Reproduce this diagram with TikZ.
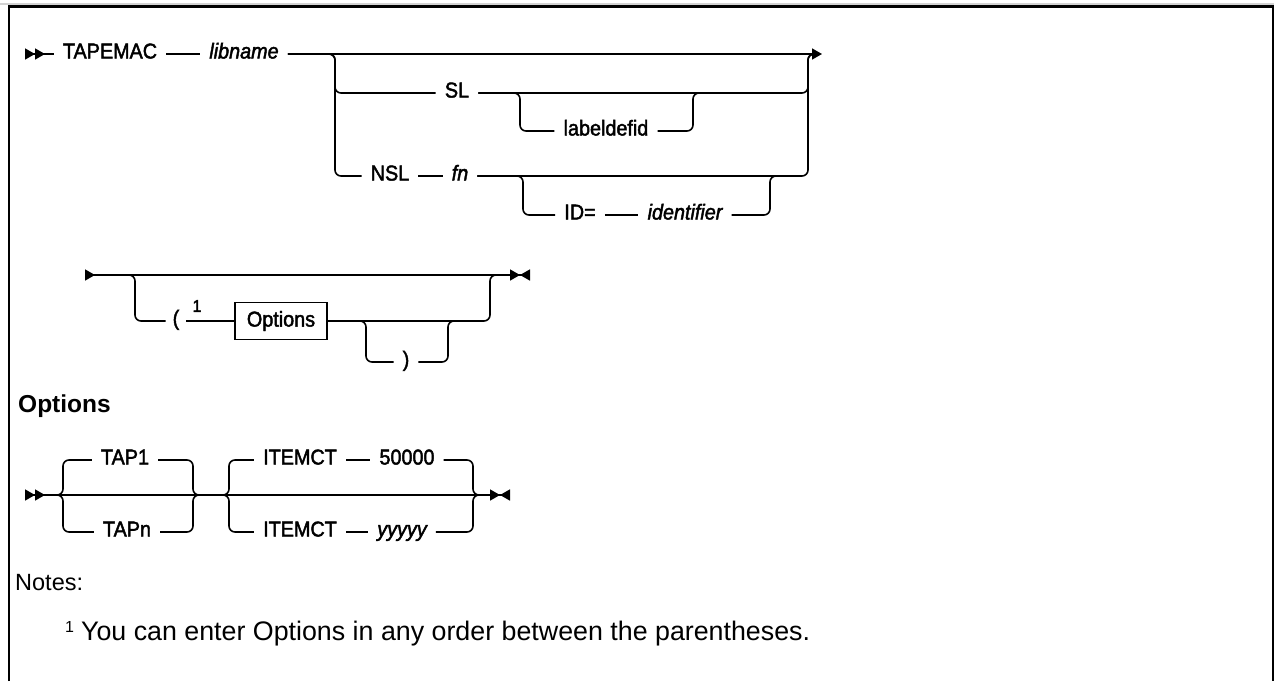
\documentclass[tikz,border=0pt]{standalone}
\usepackage{fontspec}
\setmainfont{Liberation Sans}
\newfontfamily\railfam[FakeStretch=0.92, FakeBold=2]{Liberation Sans}
\usetikzlibrary{
    arrows.meta,
    positioning,
    calc
}
\newcommand{\railfont}{\railfam\fontsize{21.5}{25}\selectfont}
\newcommand{\headfont}{\fontsize{24.5}{29}\selectfont}
\newcommand{\notefont}{\fontsize{26.8}{31}\selectfont}
\newcommand{\notehead}{\fontsize{23.5}{28}\selectfont}
\newcommand{\supfont}{\railfam\fontsize{17}{20}\selectfont}
\tikzstyle{kw} = [
    font=\railfont,
    inner xsep=9pt,
    inner ysep=2pt,
    text height=9pt,
    text depth=0pt
]
\tikzstyle{var} = [
    kw,
    font=\railfont\itshape
]
\tikzstyle{frag} = [
    draw,
    line width=1.4pt,
    font=\railfont,
    minimum width=92pt,
    minimum height=37pt,
    inner sep=0pt
]
\tikzstyle{mainline} = [
    line width=1.6pt
]
\tikzstyle{rail} = [
    line width=1.6pt,
    rounded corners=6pt
]
\tikzstyle{startmark} = [
    {Triangle[reversed,length=10pt,width=11pt]Triangle[reversed,length=10pt,width=11pt]}-
]
\tikzstyle{bothmarks} = [
    {Triangle[reversed,length=10pt,width=11pt]Triangle[reversed,length=10pt,width=11pt]}-{Triangle[length=10pt,width=11pt]Triangle[reversed,length=10pt,width=11pt]}
]
\tikzstyle{heading} = [
    font=\headfont\bfseries,
    inner sep=0pt,
    anchor=west
]
\tikzstyle{note} = [
    font=\notefont,
    inner sep=0pt,
    anchor=west
]

\begin{document}
\begin{tikzpicture}[x=1pt, y=-1pt]
    \useasboundingbox (0,0) rectangle (1274,681);

    % Frame
    \draw[gray!35, line width=2pt] (0,4) -- (1274,4);
    \draw[line width=2.5pt] (9,681) -- (9,6.3) -- (1273,6.3) -- (1273,681);

    % TAPEMAC line
    \coordinate (s1) at (25,54);
    \node[kw] (tapemac) at (110,54) {TAPEMAC};
    \node[var] (libname) at (244,54) {libname};
    \coordinate (jL) at (335,54);
    \coordinate (jR) at (808,54);
    \coordinate (jRr) at (814,54);
    \coordinate (e1) at (822,54);

    \node[kw] (sl) at (457,93) {SL};
    \node[kw] (labeldefid) at (606,131) {labeldefid};
    \node[kw] (nsl) at (390,176) {NSL};
    \node[var] (fn) at (460,176) {fn};
    \node[kw] (idkw) at (580,215) {ID=};
    \node[var] (identifier) at (685,215) {identifier};

    \coordinate (sa) at (520,93);
    \coordinate (sb) at (693,93);
    \coordinate (sc) at (703,93);
    \coordinate (na) at (523,176);
    \coordinate (nb) at (770,176);
    \coordinate (nc) at (780,176);

    \draw[mainline, startmark] (s1) -- (tapemac);
    \draw[mainline] (tapemac) -- (libname);
    \draw[mainline, -{Triangle[length=10pt,width=11pt]}] (libname) -- (e1);

    % SL / NSL choice
    \draw[rail] (libname.east) -- (jL) |- (sl.west);
    \draw[rail] (libname.east) -- (jL) |- (nsl.west);
    \draw[rail] (sl.east) -| (jR) -- (jRr);
    \draw[rail] (fn.east) -| (jR) -- (jRr);

    \draw[rail] (sl.east) -- (sa) |- (labeldefid.west);
    \draw[rail] (labeldefid.east) -| (sb) -- (sc);

    \draw[rail] (nsl) -- (fn);
    \draw[rail] (fn.east) -- (na) |- (idkw.west);
    \draw[rail] (idkw) -- (identifier);
    \draw[rail] (identifier.east) -| (nb) -- (nc);

    % Continuation line
    \coordinate (s2) at (85,275);
    \coordinate (s2b) at (110,275);
    \coordinate (e2) at (530,275);
    \coordinate (gL) at (135,275);
    \coordinate (gR) at (490,275);
    \coordinate (gRr) at (500,275);
    \node[kw, inner xsep=7pt] (lpar) at (176,321) {(};
    \node[font=\supfont, inner sep=0pt] (fnref) at (197,306) {1};
    \node[frag] (options) at (281,321) {Options};
    \node[kw] (rpar) at (406,362) {)};
    \coordinate (ga) at (366,321);
    \coordinate (gb) at (448,321);
    \coordinate (gc) at (458,321);

    \draw[mainline, {Triangle[reversed,length=10pt,width=11pt]}-{Triangle[length=10pt,width=11pt]Triangle[reversed,length=10pt,width=11pt]}] (s2) -- (e2);
    \draw[rail] (s2b) -- (gL) |- (lpar.west);
    \draw[rail] (lpar) -- (options);
    \draw[rail] (options.east) -| (gR) -- (gRr);
    \draw[rail] (options.east) -- (ga) |- (rpar.west);
    \draw[rail] (rpar.east) -| (gb) -- (gc);

    % Options fragment
    \node[heading] (opthead) at (18,406) {Options};

    \coordinate (s3) at (25,495);
    \coordinate (e3) at (510,495);
    \coordinate (ta) at (55,495);
    \coordinate (tv) at (63,495);
    \coordinate (tw) at (193,495);
    \coordinate (tb) at (202,495);
    \coordinate (ia) at (221,495);
    \coordinate (iv) at (229,495);
    \coordinate (iw) at (473,495);
    \coordinate (ib) at (482,495);
    \node[kw] (tap1) at (125,460) {TAP1};
    \node[kw] (tapn) at (127,532) {TAPn};
    \node[kw] (itemct1) at (300,460) {ITEMCT};
    \node[kw] (deflt) at (407,460) {50000};
    \node[kw] (itemct2) at (300,532) {ITEMCT};
    \node[var] (yyyyy) at (402,532) {yyyyy};

    \draw[mainline, bothmarks] (s3) -- (e3);
    \draw[rail] (ta) -- (tv) |- (tap1.west);
    \draw[rail] (ta) -- (tv) |- (tapn.west);
    \draw[rail] (tap1.east) -| (tw) -- (tb);
    \draw[rail] (tapn.east) -| (tw) -- (tb);

    \draw[rail] (ia) -- (iv) |- (itemct1.west);
    \draw[rail] (ia) -- (iv) |- (itemct2.west);
    \draw[rail] (itemct1) -- (deflt);
    \draw[rail] (itemct2) -- (yyyyy);
    \draw[rail] (deflt.east) -| (iw) -- (ib);
    \draw[rail] (yyyyy.east) -| (iw) -- (ib);

    % Notes
    \node[note, font=\notehead] (notes) at (15,583) {Notes:};
    \node[note] (note1) at (65,634) {{\fontsize{16}{16}\selectfont\raisebox{8pt}{1}}\hspace{7pt}You can enter Options in any order between the parentheses.};
\end{tikzpicture}
\end{document}
